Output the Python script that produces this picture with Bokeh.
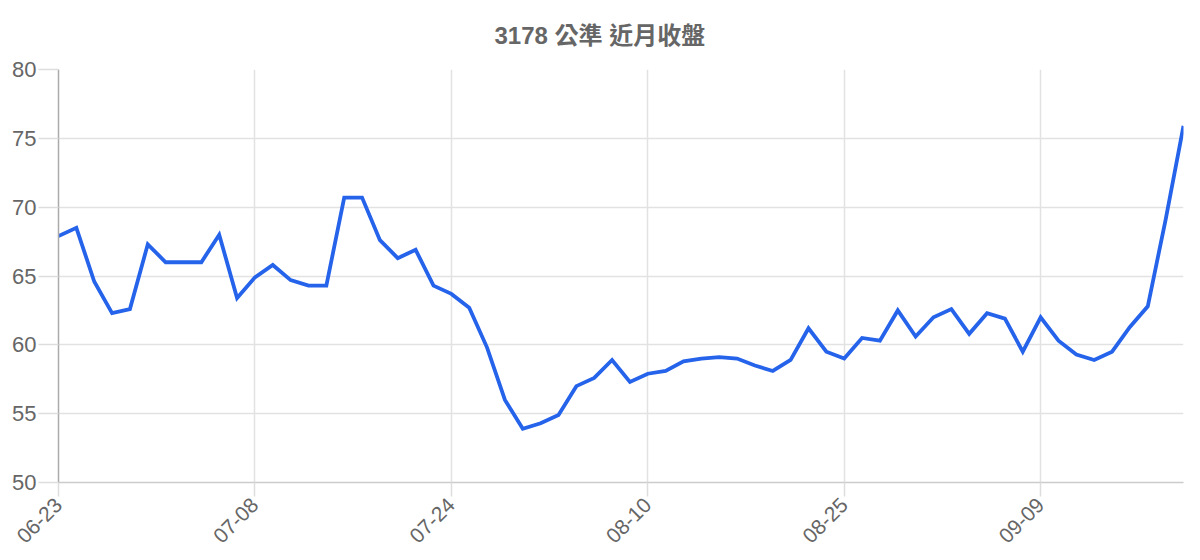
import math
from bokeh.plotting import figure
from bokeh.models import Range1d, FixedTicker
from bokeh.embed import file_html
from bokeh.resources import INLINE

# ---- data ----
title_text = "3178 公準 近月收盤"
close_values = [
    67.9, 68.5, 64.6, 62.3, 62.6, 67.3, 66.0, 66.0, 66.0, 68.0,
    63.4, 64.9, 65.8, 64.7, 64.3, 64.3, 70.7, 70.7, 67.6, 66.3,
    66.9, 64.3, 63.7, 62.7, 59.8, 56.0, 53.9, 54.3, 54.9, 57.0,
    57.6, 58.9, 57.3, 57.9, 58.1, 58.8, 59.0, 59.1, 59.0, 58.5,
    58.1, 58.9, 61.2, 59.5, 59.0, 60.5, 60.3, 62.5, 60.6, 62.0,
    62.6, 60.8, 62.3, 61.9, 59.5, 62.0, 60.3, 59.3, 58.9, 59.5,
    61.3, 62.8, 69.1, 75.9,
]
day_index = list(range(len(close_values)))
tick_days = [0, 11, 22, 33, 44, 55]
tick_labels = ["06-23", "07-08", "07-24", "08-10", "08-25", "09-09"]
y_ticks = [50, 55, 60, 65, 70, 75, 80]

FONT = "Liberation Sans, Arial, Noto Sans CJK TC, sans-serif"

p = figure(
    width=1192, height=552,
    output_backend="svg", toolbar_location=None,
    x_range=Range1d(0, len(close_values) - 1),
    y_range=Range1d(50, 80),
    min_border_left=58, min_border_right=9,
    min_border_top=69, min_border_bottom=69,
    title=title_text,
)
p.outline_line_color = None
p.background_fill_color = "white"
p.border_fill_color = "white"

p.title.align = "left"
p.title.offset = 436
p.title.text_font = FONT
p.title.text_font_size = "24px"
p.title.text_font_style = "bold"
p.title.text_color = "#666666"
p.title.standoff = 37
p.title.vertical_align = "top"

# x axis
xa = p.xaxis[0]
xa.ticker = FixedTicker(ticks=tick_days)
xa.major_label_overrides = {d: l for d, l in zip(tick_days, tick_labels)}
xa.major_label_orientation = math.pi / 4
xa.major_label_text_font = FONT
xa.major_label_text_font_size = "21px"
xa.major_label_text_color = "#666666"
xa.major_label_standoff = 5
xa.axis_line_color = "#cccccc"
xa.axis_line_width = 1.5
xa.major_tick_line_color = "#dddddd"
xa.major_tick_line_width = 1.5
xa.major_tick_out = 14
xa.major_tick_in = 0
xa.minor_tick_line_color = None

# y axis
ya = p.yaxis[0]
ya.ticker = FixedTicker(ticks=y_ticks)
ya.major_label_text_font = FONT
ya.major_label_text_font_size = "22px"
ya.major_label_text_color = "#666666"
ya.major_label_standoff = 2
ya.axis_line_color = "#aaaaaa"
ya.axis_line_width = 1.5
ya.major_tick_line_color = "#dddddd"
ya.major_tick_line_width = 1.5
ya.major_tick_out = 20
ya.major_tick_in = 0
ya.minor_tick_line_color = None

p.xgrid.ticker = FixedTicker(ticks=tick_days)
p.xgrid.grid_line_color = "#e2e2e2"
p.xgrid.grid_line_width = 1.5
p.ygrid.ticker = FixedTicker(ticks=y_ticks)
p.ygrid.grid_line_color = "#e2e2e2"
p.ygrid.grid_line_width = 1.5

p.line(day_index, close_values, line_color="#2563eb", line_width=3.8,
       line_join="miter")

open("out.html", "w").write(file_html(p, INLINE))
